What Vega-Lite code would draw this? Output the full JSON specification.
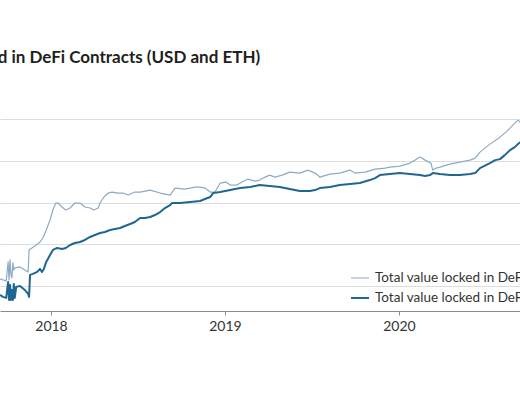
{
  "$schema": "https://vega.github.io/schema/vega-lite/v6.json",
  "autosize": {"type": "none"},
  "width": 520,
  "height": 216,
  "padding": {"left": 0, "top": 95, "right": 0, "bottom": 89},
  "background": "white",
  "title": {
    "text": "Total Value Locked in DeFi Contracts (USD and ETH)",
    "anchor": "start",
    "dx": -133,
    "offset": 28,
    "font": "Lato",
    "fontSize": 17,
    "fontWeight": "bold",
    "color": "#231f20"
  },
  "data": {
    "values": [
      {"date": "2017-09-16", "series": "USD", "value": 1471000},
      {"date": "2017-09-22", "series": "USD", "value": 1392000},
      {"date": "2017-09-29", "series": "USD", "value": 1318000},
      {"date": "2017-10-03", "series": "USD", "value": 3758000},
      {"date": "2017-10-05", "series": "USD", "value": 1392000},
      {"date": "2017-10-07", "series": "USD", "value": 4196000},
      {"date": "2017-10-09", "series": "USD", "value": 1834000},
      {"date": "2017-10-11", "series": "USD", "value": 1555000},
      {"date": "2017-10-13", "series": "USD", "value": 3556000},
      {"date": "2017-10-15", "series": "USD", "value": 2416000},
      {"date": "2017-10-17", "series": "USD", "value": 2699000},
      {"date": "2017-10-28", "series": "USD", "value": 2852000},
      {"date": "2017-11-07", "series": "USD", "value": 2416000},
      {"date": "2017-11-14", "series": "USD", "value": 2164000},
      {"date": "2017-11-16", "series": "USD", "value": 7285000},
      {"date": "2017-11-22", "series": "USD", "value": 8133000},
      {"date": "2017-12-01", "series": "USD", "value": 9594000},
      {"date": "2017-12-09", "series": "USD", "value": 11320000},
      {"date": "2017-12-15", "series": "USD", "value": 14110000},
      {"date": "2017-12-22", "series": "USD", "value": 21940000},
      {"date": "2017-12-30", "series": "USD", "value": 38090000},
      {"date": "2018-01-05", "series": "USD", "value": 66130000},
      {"date": "2018-01-11", "series": "USD", "value": 97270000},
      {"date": "2018-01-16", "series": "USD", "value": 97270000},
      {"date": "2018-01-24", "series": "USD", "value": 78030000},
      {"date": "2018-02-01", "series": "USD", "value": 66130000},
      {"date": "2018-02-10", "series": "USD", "value": 73840000},
      {"date": "2018-02-20", "series": "USD", "value": 97270000},
      {"date": "2018-03-03", "series": "USD", "value": 97270000},
      {"date": "2018-03-13", "series": "USD", "value": 78030000},
      {"date": "2018-03-24", "series": "USD", "value": 73840000},
      {"date": "2018-04-01", "series": "USD", "value": 66130000},
      {"date": "2018-04-10", "series": "USD", "value": 73840000},
      {"date": "2018-04-14", "series": "USD", "value": 97270000},
      {"date": "2018-04-22", "series": "USD", "value": 135400000},
      {"date": "2018-05-01", "series": "USD", "value": 168900000},
      {"date": "2018-05-09", "series": "USD", "value": 178500000},
      {"date": "2018-05-22", "series": "USD", "value": 168900000},
      {"date": "2018-06-01", "series": "USD", "value": 168900000},
      {"date": "2018-06-12", "series": "USD", "value": 151200000},
      {"date": "2018-06-26", "series": "USD", "value": 178500000},
      {"date": "2018-07-07", "series": "USD", "value": 178500000},
      {"date": "2018-07-28", "series": "USD", "value": 199300000},
      {"date": "2018-08-18", "series": "USD", "value": 168900000},
      {"date": "2018-09-08", "series": "USD", "value": 151200000},
      {"date": "2018-09-18", "series": "USD", "value": 222500000},
      {"date": "2018-10-09", "series": "USD", "value": 210600000},
      {"date": "2018-10-30", "series": "USD", "value": 235100000},
      {"date": "2018-11-10", "series": "USD", "value": 235100000},
      {"date": "2018-11-20", "series": "USD", "value": 222500000},
      {"date": "2018-12-01", "series": "USD", "value": 178500000},
      {"date": "2018-12-11", "series": "USD", "value": 178500000},
      {"date": "2018-12-22", "series": "USD", "value": 293200000},
      {"date": "2019-01-03", "series": "USD", "value": 309700000},
      {"date": "2019-01-12", "series": "USD", "value": 262600000},
      {"date": "2019-01-26", "series": "USD", "value": 262600000},
      {"date": "2019-02-06", "series": "USD", "value": 309700000},
      {"date": "2019-02-18", "series": "USD", "value": 365500000},
      {"date": "2019-03-05", "series": "USD", "value": 327300000},
      {"date": "2019-03-15", "series": "USD", "value": 345800000},
      {"date": "2019-03-26", "series": "USD", "value": 408100000},
      {"date": "2019-04-05", "series": "USD", "value": 455700000},
      {"date": "2019-04-16", "series": "USD", "value": 408100000},
      {"date": "2019-05-01", "series": "USD", "value": 455700000},
      {"date": "2019-05-17", "series": "USD", "value": 537600000},
      {"date": "2019-06-07", "series": "USD", "value": 508800000},
      {"date": "2019-06-24", "series": "USD", "value": 600200000},
      {"date": "2019-07-09", "series": "USD", "value": 508800000},
      {"date": "2019-07-19", "series": "USD", "value": 408100000},
      {"date": "2019-08-09", "series": "USD", "value": 481500000},
      {"date": "2019-08-30", "series": "USD", "value": 508800000},
      {"date": "2019-09-20", "series": "USD", "value": 600200000},
      {"date": "2019-10-01", "series": "USD", "value": 508800000},
      {"date": "2019-10-22", "series": "USD", "value": 537600000},
      {"date": "2019-11-12", "series": "USD", "value": 634500000},
      {"date": "2019-12-03", "series": "USD", "value": 670500000},
      {"date": "2019-12-13", "series": "USD", "value": 708500000},
      {"date": "2020-01-03", "series": "USD", "value": 748600000},
      {"date": "2020-01-24", "series": "USD", "value": 883400000},
      {"date": "2020-02-04", "series": "USD", "value": 1042000000},
      {"date": "2020-02-14", "series": "USD", "value": 1230000000},
      {"date": "2020-02-25", "series": "USD", "value": 1042000000},
      {"date": "2020-03-08", "series": "USD", "value": 883400000},
      {"date": "2020-03-12", "series": "USD", "value": 600200000},
      {"date": "2020-03-19", "series": "USD", "value": 670500000},
      {"date": "2020-03-27", "series": "USD", "value": 708500000},
      {"date": "2020-04-17", "series": "USD", "value": 835900000},
      {"date": "2020-05-08", "series": "USD", "value": 933300000},
      {"date": "2020-05-29", "series": "USD", "value": 1042000000},
      {"date": "2020-06-09", "series": "USD", "value": 1164000000},
      {"date": "2020-06-19", "series": "USD", "value": 1620000000},
      {"date": "2020-07-10", "series": "USD", "value": 2519000000},
      {"date": "2020-07-31", "series": "USD", "value": 3705000000},
      {"date": "2020-08-10", "series": "USD", "value": 4620000000},
      {"date": "2020-08-21", "series": "USD", "value": 6086000000},
      {"date": "2020-08-31", "series": "USD", "value": 8022000000},
      {"date": "2020-09-07", "series": "USD", "value": 9463000000},
      {"date": "2020-09-11", "series": "USD", "value": 8476000000},

      {"date": "2017-09-16", "series": "ETH", "value": 609000},
      {"date": "2017-09-22", "series": "ETH", "value": 545000},
      {"date": "2017-09-29", "series": "ETH", "value": 516000},
      {"date": "2017-10-03", "series": "ETH", "value": 1247000},
      {"date": "2017-10-05", "series": "ETH", "value": 462000},
      {"date": "2017-10-07", "series": "ETH", "value": 1057000},
      {"date": "2017-10-09", "series": "ETH", "value": 462000},
      {"date": "2017-10-11", "series": "ETH", "value": 802000},
      {"date": "2017-10-13", "series": "ETH", "value": 462000},
      {"date": "2017-10-15", "series": "ETH", "value": 1117000},
      {"date": "2017-10-17", "series": "ETH", "value": 516000},
      {"date": "2017-10-20", "series": "ETH", "value": 946000},
      {"date": "2017-10-28", "series": "ETH", "value": 1000000},
      {"date": "2017-11-07", "series": "ETH", "value": 802000},
      {"date": "2017-11-14", "series": "ETH", "value": 643000},
      {"date": "2017-11-16", "series": "ETH", "value": 545000},
      {"date": "2017-11-18", "series": "ETH", "value": 1834000},
      {"date": "2017-11-24", "series": "ETH", "value": 1938000},
      {"date": "2017-12-03", "series": "ETH", "value": 2164000},
      {"date": "2017-12-09", "series": "ETH", "value": 2554000},
      {"date": "2017-12-13", "series": "ETH", "value": 2164000},
      {"date": "2017-12-17", "series": "ETH", "value": 2554000},
      {"date": "2017-12-22", "series": "ETH", "value": 3758000},
      {"date": "2017-12-30", "series": "ETH", "value": 5526000},
      {"date": "2018-01-05", "series": "ETH", "value": 7285000},
      {"date": "2018-01-14", "series": "ETH", "value": 8133000},
      {"date": "2018-01-24", "series": "ETH", "value": 7696000},
      {"date": "2018-02-01", "series": "ETH", "value": 8133000},
      {"date": "2018-02-10", "series": "ETH", "value": 9594000},
      {"date": "2018-02-20", "series": "ETH", "value": 10710000},
      {"date": "2018-03-03", "series": "ETH", "value": 11320000},
      {"date": "2018-03-13", "series": "ETH", "value": 12640000},
      {"date": "2018-03-24", "series": "ETH", "value": 14920000},
      {"date": "2018-04-03", "series": "ETH", "value": 16660000},
      {"date": "2018-04-14", "series": "ETH", "value": 18600000},
      {"date": "2018-04-24", "series": "ETH", "value": 19650000},
      {"date": "2018-05-05", "series": "ETH", "value": 21940000},
      {"date": "2018-05-15", "series": "ETH", "value": 23190000},
      {"date": "2018-05-26", "series": "ETH", "value": 24500000},
      {"date": "2018-06-05", "series": "ETH", "value": 27360000},
      {"date": "2018-06-16", "series": "ETH", "value": 30550000},
      {"date": "2018-06-26", "series": "ETH", "value": 34120000},
      {"date": "2018-07-07", "series": "ETH", "value": 42540000},
      {"date": "2018-07-17", "series": "ETH", "value": 42540000},
      {"date": "2018-07-28", "series": "ETH", "value": 44950000},
      {"date": "2018-08-07", "series": "ETH", "value": 50190000},
      {"date": "2018-08-18", "series": "ETH", "value": 59220000},
      {"date": "2018-08-28", "series": "ETH", "value": 73840000},
      {"date": "2018-09-08", "series": "ETH", "value": 87130000},
      {"date": "2018-09-12", "series": "ETH", "value": 97270000},
      {"date": "2018-09-29", "series": "ETH", "value": 97270000},
      {"date": "2018-10-20", "series": "ETH", "value": 102800000},
      {"date": "2018-11-10", "series": "ETH", "value": 108600000},
      {"date": "2018-11-20", "series": "ETH", "value": 121300000},
      {"date": "2018-12-01", "series": "ETH", "value": 135400000},
      {"date": "2018-12-07", "series": "ETH", "value": 168900000},
      {"date": "2018-12-22", "series": "ETH", "value": 178500000},
      {"date": "2019-01-12", "series": "ETH", "value": 199300000},
      {"date": "2019-02-02", "series": "ETH", "value": 222500000},
      {"date": "2019-02-23", "series": "ETH", "value": 235100000},
      {"date": "2019-03-15", "series": "ETH", "value": 262600000},
      {"date": "2019-04-05", "series": "ETH", "value": 248500000},
      {"date": "2019-04-26", "series": "ETH", "value": 235100000},
      {"date": "2019-05-17", "series": "ETH", "value": 210600000},
      {"date": "2019-06-07", "series": "ETH", "value": 188600000},
      {"date": "2019-06-28", "series": "ETH", "value": 188600000},
      {"date": "2019-07-09", "series": "ETH", "value": 199300000},
      {"date": "2019-07-19", "series": "ETH", "value": 222500000},
      {"date": "2019-08-09", "series": "ETH", "value": 235100000},
      {"date": "2019-08-30", "series": "ETH", "value": 262600000},
      {"date": "2019-09-20", "series": "ETH", "value": 277400000},
      {"date": "2019-10-11", "series": "ETH", "value": 293200000},
      {"date": "2019-11-01", "series": "ETH", "value": 345800000},
      {"date": "2019-11-12", "series": "ETH", "value": 386200000},
      {"date": "2019-11-22", "series": "ETH", "value": 455700000},
      {"date": "2019-12-13", "series": "ETH", "value": 481500000},
      {"date": "2020-01-03", "series": "ETH", "value": 508800000},
      {"date": "2020-01-24", "series": "ETH", "value": 481500000},
      {"date": "2020-02-14", "series": "ETH", "value": 455700000},
      {"date": "2020-02-25", "series": "ETH", "value": 431200000},
      {"date": "2020-03-06", "series": "ETH", "value": 455700000},
      {"date": "2020-03-12", "series": "ETH", "value": 508800000},
      {"date": "2020-03-27", "series": "ETH", "value": 481500000},
      {"date": "2020-04-17", "series": "ETH", "value": 455700000},
      {"date": "2020-05-08", "series": "ETH", "value": 455700000},
      {"date": "2020-05-29", "series": "ETH", "value": 481500000},
      {"date": "2020-06-09", "series": "ETH", "value": 508800000},
      {"date": "2020-06-19", "series": "ETH", "value": 670500000},
      {"date": "2020-07-10", "series": "ETH", "value": 883400000},
      {"date": "2020-07-21", "series": "ETH", "value": 1042000000},
      {"date": "2020-07-31", "series": "ETH", "value": 1101000000},
      {"date": "2020-08-10", "series": "ETH", "value": 1373000000},
      {"date": "2020-08-21", "series": "ETH", "value": 1809000000},
      {"date": "2020-08-31", "series": "ETH", "value": 2135000000},
      {"date": "2020-09-11", "series": "ETH", "value": 2812000000}
    ]
  },
  "mark": {"type": "line", "clip": true, "strokeJoin": "round"},
  "encoding": {
    "x": {
      "field": "date",
      "type": "temporal",
      "scale": {"domain": ["2017-09-16", "2020-09-11"]},
      "axis": {
        "title": null,
        "format": "%Y",
        "tickCount": {"interval": "year", "step": 1},
        "grid": false,
        "domainColor": "#8c8c8c",
        "tickColor": "#8c8c8c",
        "tickSize": 4,
        "labelFont": "Lato",
        "labelFontSize": 14,
        "labelColor": "#333333",
        "labelPadding": 4
      }
    },
    "y": {
      "field": "value",
      "type": "quantitative",
      "scale": {"type": "log", "domain": [250000, 38000000000], "nice": false},
      "axis": {
        "title": null,
        "labels": false,
        "ticks": false,
        "domain": false,
        "values": [1000000, 10000000, 100000000, 1000000000, 10000000000],
        "gridColor": "#dddddd",
        "gridWidth": 1
      }
    },
    "color": {
      "field": "series",
      "type": "nominal",
      "scale": {"domain": ["USD", "ETH"], "range": ["#8eaac5", "#1f6792"]},
      "legend": {
        "orient": "none",
        "legendX": 350,
        "legendY": 175,
        "title": null,
        "symbolType": "stroke",
        "symbolSize": 324,
        "clipHeight": 16,
        "rowPadding": 4,
        "labelOffset": 5,
        "labelLimit": 400,
        "labelFont": "Lato",
        "labelFontSize": 13.5,
        "labelColor": "#333333",
        "labelExpr": "'Total value locked in DeFi (' + datum.label + ')'"
      }
    },
    "strokeWidth": {
      "field": "series",
      "type": "nominal",
      "scale": {"domain": ["USD", "ETH"], "range": [1.2, 2]},
      "legend": {
        "orient": "none",
        "legendX": 350,
        "legendY": 175,
        "title": null,
        "symbolType": "stroke",
        "symbolSize": 324,
        "clipHeight": 16,
        "rowPadding": 4,
        "labelOffset": 5,
        "labelLimit": 400,
        "labelFont": "Lato",
        "labelFontSize": 13.5,
        "labelColor": "#333333",
        "labelExpr": "'Total value locked in DeFi (' + datum.label + ')'"
      }
    }
  },
  "config": {
    "view": {"stroke": null},
    "font": "Lato"
  }
}
